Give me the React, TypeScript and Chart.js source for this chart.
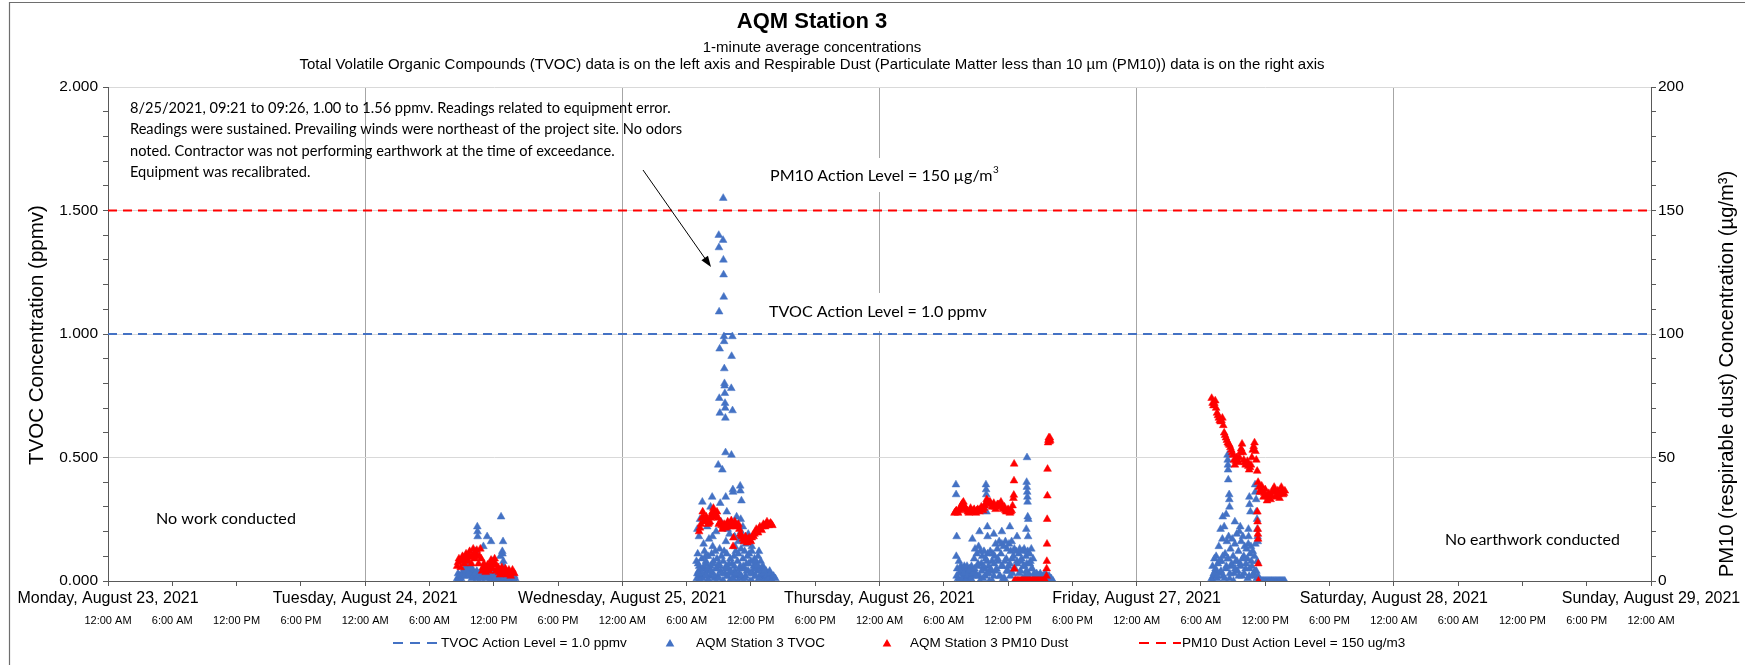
import React, { useEffect, useRef } from "react";
import { Chart, registerables } from "chart.js";

Chart.register(...registerables);

// ---------------- text ----------------
const chartTitle = "AQM Station 3";
const subtitleLines = [
  "1-minute average concentrations",
  "Total Volatile Organic Compounds (TVOC) data is on the left axis and Respirable Dust (Particulate Matter less than 10 µm (PM10)) data is on the right axis",
];
const leftAxisTitle = "TVOC Concentration (ppmv)";
const rightAxisTitle = "PM10 (respirable dust) Concentration (µg/m³)";
const dayLabels = [
  "Monday, August 23, 2021",
  "Tuesday, August 24, 2021",
  "Wednesday, August 25, 2021",
  "Thursday, August 26, 2021",
  "Friday, August 27, 2021",
  "Saturday, August 28, 2021",
  "Sunday, August 29, 2021",
];
const timeLabels = ["12:00 AM", "6:00 AM", "12:00 PM", "6:00 PM"];
const noteLines = [
  "8/25/2021, 09:21 to 09:26, 1.00 to 1.56 ppmv. Readings related to equipment error.",
  "Readings were sustained. Prevailing winds were northeast of the project site. No odors",
  "noted. Contractor was not performing earthwork at the time of exceedance.",
  "Equipment was recalibrated.",
];
const pm10LevelText = "PM10 Action Level = 150 µg/m";
const tvocLevelText = "TVOC Action Level = 1.0 ppmv";
const noWorkText = "No work conducted";
const noEarthworkText = "No earthwork conducted";
const legendLabels = [
  "TVOC Action Level = 1.0 ppmv",
  "AQM Station 3 TVOC",
  "AQM Station 3 PM10 Dust",
  "PM10 Dust Action Level = 150 ug/m3",
];

// ---------------- axes ----------------
const xHoursMax = 144; // Mon 23 Aug 00:00 -> Sun 29 Aug 00:00
const tvocMax = 2;
const pm10Max = 200;
const tvocActionLevel = 1.0;
const pm10ActionLevel = 150;

// ---------------- data: TVOC (ppmv) ----------------
// readings every 5 minutes
const tvocTueStart = ["2021-08-24", "08:35"];
const tvocTue = [
  0.01, 0.03, 0.01, 0.02, 0.0, 0.02, 0.03,
  0.04, 0.05, 0.03, 0.05, 0.04, 0.06, 0.04, 0.05, 0.03, 0.04, 0.05, 0.03,
  0.02, 0.03, 0.02, 0.04, 0.03, 0.02, 0.03, 0.02, 0.04, 0.02, 0.03, 0.02,
  0.03, 0.02, 0.03, 0.02, 0.03, 0.02, 0.03, 0.02, 0.02, 0.01, 0.03, 0.02,
  0.01, 0.02, 0.03, 0.01, 0.02, 0.02, 0.01, 0.02, 0.02, 0.01, 0.02, 0.01,
  0.02, 0.01, 0.02, 0.01, 0.0, 0.02, 0.01, 0.01, 0.0, 0.02, 0.01,
];
// readings every 10 minutes, between the above
const tvocTueLowStart = ["2021-08-24", "08:37"];
const tvocTueLow = [
  0.0, 0.02, 0.01, 0.03, 0.02, 0.04, 0.03, 0.02, 0.01, 0.02, 0.03, 0.01, 0.02, 0.01,
  0.03, 0.02, 0.01, 0.02, 0.0, 0.01, 0.02, 0.01, 0.0, 0.01, 0.02, 0.0, 0.01, 0.0,
  0.01, 0.02, 0.0, 0.01, 0.0,
];
const tvocTuePeaks: [string, number][] = [
  ["10:17", 0.12], ["10:28", 0.22], ["10:29", 0.2], ["10:30", 0.18], ["11:02", 0.14],
  ["11:23", 0.18], ["11:45", 0.16], ["11:51", 0.08], ["12:37", 0.1], ["12:41", 0.26],
  ["12:48", 0.12], ["12:49", 0.11], ["12:52", 0.16], ["12:54", 0.08], ["12:55", 0.06],
];

const tvocWedStart = ["2021-08-25", "06:55"];
const tvocWed = [
  0.08, 0.03, 0.0, 0.06, 0.02, 0.04,
  0.09, 0.01, 0.05, 0.12, 0.03, 0.07, 0.0, 0.1, 0.04, 0.02,
  0.06, 0.11, 0.03, 0.08, 0.01, 0.12, 0.05, 0.09, 0.02, 0.07,
  0.13, 0.04, 0.1, 0.0, 0.08, 0.12, 0.03, 0.06, 0.11, 0.02,
  0.05, 0.0, 0.09, 0.03, 0.07, 0.01, 0.1, 0.04, 0.12, 0.02,
  0.08, 0.11, 0.03, 0.06, 0.13, 0.01, 0.09, 0.05, 0.12, 0.02,
  0.07, 0.1, 0.04, 0.11, 0.0, 0.08, 0.12, 0.03, 0.06, 0.09,
  0.02, 0.07, 0.04, 0.1, 0.01, 0.05, 0.08, 0.02, 0.06, 0.03,
  0.05, 0.01, 0.04, 0.02, 0.03, 0.0, 0.04, 0.01, 0.02, 0.0,
];
const tvocWedLowStart = ["2021-08-25", "06:57"];
const tvocWedLow = [
  0.01, 0.04, 0.0, 0.03, 0.06, 0.02, 0.05, 0.0, 0.04, 0.07,
  0.02, 0.05, 0.01, 0.06, 0.03, 0.0, 0.05, 0.02, 0.07, 0.04,
  0.01, 0.06, 0.03, 0.0, 0.05, 0.02, 0.06, 0.01, 0.04, 0.07,
  0.03, 0.0, 0.05, 0.02, 0.06, 0.01, 0.03, 0.0, 0.04, 0.02,
  0.01, 0.03, 0.0, 0.02, 0.01,
];
const tvocWedPeaks: [string, number][] = [
  ["07:00", 0.21], ["07:02", 0.11], ["07:04", 0.07], ["07:06", 0.03], ["07:09", 0.18],
  ["07:15", 0.25], ["07:28", 0.32], ["07:35", 0.15], ["07:46", 0.1], ["07:48", 0.08],
  ["07:55", 0.22], ["08:05", 0.17], ["08:14", 0.3], ["08:23", 0.34], ["08:25", 0.18],
  ["08:26", 0.14], ["08:33", 0.27], ["08:45", 0.2],
  ["08:57", 0.47], ["09:00", 1.4], ["09:01", 1.35], ["09:02", 1.09], ["09:03", 0.74],
  ["09:05", 0.94], ["09:06", 0.68], ["09:08", 0.315], ["09:12", 0.24],
  ["09:20", 0.45], ["09:24", 1.38], ["09:25", 1.55], ["09:26", 1.3], ["09:27", 1.24],
  ["09:28", 1.15], ["09:29", 0.99], ["09:30", 0.97], ["09:31", 0.86], ["09:32", 0.8],
  ["09:33", 0.79], ["09:34", 0.76], ["09:35", 0.72], ["09:36", 0.7], ["09:37", 0.66],
  ["09:38", 0.52], ["09:39", 0.34], ["09:40", 0.16], ["09:45", 0.28], ["09:50", 0.21],
  ["10:00", 0.19],
  ["10:10", 0.78], ["10:11", 0.51], ["10:12", 0.91], ["10:16", 0.99], ["10:17", 0.69],
  ["10:19", 0.37], ["10:20", 0.36], ["10:29", 0.18], ["10:31", 0.14], ["10:40", 0.26],
  ["10:50", 0.16],
  ["11:00", 0.385], ["11:01", 0.365], ["11:03", 0.25], ["11:04", 0.2], ["11:05", 0.18],
  ["11:07", 0.325], ["11:15", 0.22], ["11:30", 0.15], ["11:45", 0.19], ["12:05", 0.14],
  ["12:27", 0.08], ["12:45", 0.12],
];

const tvocThuStart = ["2021-08-26", "07:10"];
const tvocThu = [
  0.1, 0.05, 0.01, 0.08, 0.03, 0.06,
  0.0, 0.05, 0.02, 0.06, 0.01, 0.04, 0.06, 0.0, 0.03, 0.05,
  0.01, 0.06, 0.02, 0.04, 0.09, 0.13, 0.03, 0.11, 0.06, 0.14,
  0.02, 0.12, 0.07, 0.1, 0.01, 0.12, 0.05, 0.09, 0.03, 0.11,
  0.06, 0.0, 0.12, 0.04, 0.08, 0.11, 0.02, 0.1, 0.15, 0.05,
  0.13, 0.08, 0.16, 0.02, 0.11, 0.15, 0.06, 0.14, 0.01, 0.16,
  0.09, 0.13, 0.04, 0.15, 0.07, 0.12, 0.16, 0.03, 0.1, 0.13,
  0.05, 0.12, 0.08, 0.0, 0.11, 0.13, 0.04, 0.09, 0.12, 0.06,
  0.13, 0.02, 0.1, 0.07, 0.12, 0.03, 0.11, 0.08, 0.13, 0.05,
  0.09, 0.03, 0.02, 0.0, 0.03, 0.01, 0.02, 0.0, 0.03, 0.01,
  0.02, 0.0, 0.01, 0.03, 0.0, 0.02, 0.01, 0.0, 0.02, 0.01,
  0.0,
];
const tvocThuLowStart = ["2021-08-26", "07:12"];
const tvocThuLow = [
  0.02, 0.0, 0.04, 0.01, 0.03, 0.0, 0.02, 0.04, 0.01, 0.03,
  0.05, 0.02, 0.07, 0.0, 0.04, 0.06, 0.02, 0.08, 0.03, 0.05,
  0.0, 0.07, 0.04, 0.09, 0.02, 0.06, 0.01, 0.08, 0.04, 0.06,
  0.02, 0.09, 0.05, 0.0, 0.07, 0.03, 0.08, 0.01, 0.06, 0.04,
  0.02, 0.07, 0.05, 0.01, 0.01, 0.0, 0.02, 0.01, 0.0, 0.01,
  0.0, 0.02, 0.0, 0.01, 0.0,
];
const tvocThuPeaks: [string, number][] = [
  ["07:08", 0.39], ["07:09", 0.35], ["07:12", 0.18], ["08:40", 0.17], ["09:20", 0.2],
  ["09:56", 0.39], ["09:57", 0.37], ["09:58", 0.35], ["09:59", 0.28], ["10:04", 0.22],
  ["10:05", 0.18], ["10:40", 0.19], ["11:25", 0.2], ["12:10", 0.22], ["12:50", 0.18],
  ["13:42", 0.21], ["13:44", 0.4], ["13:45", 0.38], ["13:46", 0.5], ["13:47", 0.36],
  ["13:48", 0.34], ["13:49", 0.32], ["13:50", 0.26], ["13:52", 0.18], ["13:53", 0.25],
];

const tvocFriStart = ["2021-08-27", "07:00"];
const tvocFri = [
  0.01, 0.06, 0.02, 0.09, 0.04, 0.1, 0.01, 0.07,
  0.14, 0.03, 0.21, 0.08, 0.17, 0.02, 0.22, 0.11, 0.05, 0.16,
  0.09, 0.18, 0.01, 0.13, 0.06, 0.17, 0.1, 0.03, 0.15, 0.08,
  0.19, 0.04, 0.12, 0.2, 0.07, 0.16, 0.02, 0.18, 0.1, 0.14,
  0.05, 0.13, 0.09, 0.15, 0.02, 0.11, 0.14, 0.06, 0.12, 0.03,
  0.1, 0.15, 0.04, 0.08, 0.02,
  0, 0, 0, 0, 0, 0, 0, 0, 0, 0, 0, 0, 0, 0, 0,
  0, 0, 0, 0, 0, 0, 0, 0, 0, 0, 0, 0, 0, 0, 0,
];
const tvocFriLowStart = ["2021-08-27", "07:02"];
const tvocFriLow = [
  0.0, 0.03, 0.05, 0.02, 0.08, 0.04, 0.1, 0.01, 0.06, 0.09,
  0.03, 0.07, 0.0, 0.05, 0.08, 0.02, 0.06, 0.09, 0.03, 0.07,
  0.01, 0.05, 0.08, 0.02, 0.04, 0.01, 0.0,
];
const tvocFriPeaks: [string, number][] = [
  ["08:02", 0.26], ["08:21", 0.27], ["08:29", 0.51], ["08:30", 0.49], ["08:31", 0.47],
  ["08:32", 0.45], ["08:33", 0.41], ["08:38", 0.35], ["08:39", 0.33], ["08:40", 0.3],
  ["09:10", 0.24], ["09:40", 0.22], ["10:26", 0.21], ["10:27", 0.18], ["10:31", 0.34],
  ["10:32", 0.31], ["10:37", 0.28], ["11:03", 0.39], ["11:04", 0.36], ["11:09", 0.33],
  ["11:10", 0.28], ["11:14", 0.25], ["11:15", 0.21], ["11:17", 0.18], ["11:18", 0.16],
];

// ---------------- data: PM10 (µg/m3) ----------------
// readings every 10 minutes (A) and the 10-minute readings in between (B)
const pm10TueStart = ["2021-08-24", "08:35"];
const pm10Tue = [
  6, 9, 5.5, 10, 7, 11, 8, 12, 7, 13, 9, 12.5, 7, 13, 4, 7, 3.5, 6.5, 4, 8.5,
  5, 9, 4, 5.5, 2.5, 5.5, 3, 5, 2.5, 4.5, 2, 4.5, 3,
];
const pm10TueBStart = ["2021-08-24", "08:40"];
const pm10TueB = [
  7.5, 8, 8.5, 8.5, 9.5, 9, 10.5, 9.5, 10, 11, 10.5, 10, 10, 9, 5.5, 5, 5, 5.5, 6.5,
  7, 6.5, 7, 4.5, 3.5, 4, 4, 4, 3.5, 3.5, 3, 3.5, 3.5,
];

const pm10WedStart = ["2021-08-25", "07:10"];
const pm10Wed = [
  20, 23, 28, 24, 26, 23, 24, 27, 29.5, 26, 28, 23, 24, 21, 23, 21.5, 24, 22, 24.5, 14,
  24, 22, 23, 19, 18, 16, 18, 15.5, 17.5, 16, 18.5, 19, 21, 19.5, 22, 20.5, 23, 22, 24,
  22.5, 23.5, 22.5,
];
const pm10WedBStart = ["2021-08-25", "07:15"];
const pm10WedB = [
  21.5, 25.5, 26, 25, 24.5, 23.5, 25.5, 28, 27.5, 27, 25.5, 23.5, 22.5, 22, 22.5, 22.5,
  23, 23.5, 22.5, 22, 23, 22.5, 21, 18.5, 17, 17, 16.5, 16.5, 16.5, 17.5, 18, 20, 20,
  21, 21, 22, 22.5, 23, 23, 23, 23,
];
const pm10WedPeaks: [string, number][] = [["10:22", 17.5]];

const pm10ThuStart = ["2021-08-26", "07:00"];
const pm10Thu = [
  27.5, 28.5, 27.5, 29, 31, 32, 29.5, 28.5, 27.5, 29.5, 28, 29, 27.5, 29, 28, 30, 28.5,
  30.5, 33, 31.5, 32, 30, 31.5, 29, 31, 30.5, 32, 29.5, 30, 28, 29, 27.5, 28.5, 33.5,
  0, 0, 0, 0, 0, 0, 0, 0, 0, 0, 0, 0, 0, 0, 0, 0, 0, 0,
];
const pm10ThuBStart = ["2021-08-26", "07:05"];
const pm10ThuB = [
  28, 28, 28.5, 30, 31.5, 30.5, 29, 28, 28.5, 28.5, 28.5, 28, 28.5, 28.5, 29, 29.5,
  29.5, 31.5, 32.5, 32, 31, 30.5, 30, 30, 31, 31, 30.5, 29, 28.5, 28.5, 28, 28, 30.5,
  0, 0, 0, 0, 0, 0, 0, 0, 0, 0, 0, 0, 0, 0, 0, 0, 0, 0,
];
const pm10ThuPeaks: [string, number][] = [
  ["12:32", 34.8], ["12:33", 40.6], ["12:34", 47.4], ["12:35", 4.9],
  ["15:35", 2], ["15:36", 5], ["15:37", 8], ["15:38", 15], ["15:39", 25], ["15:40", 34.5],
  ["15:41", 45.3], ["15:44", 56], ["15:46", 57], ["15:48", 58], ["15:50", 57.5],
  ["15:52", 56.5], ["15:54", 58], ["15:56", 57],
];

const pm10FriStart = ["2021-08-27", "07:00"];
const pm10Fri = [
  74, 71, 73, 68, 66, 64.5, 66, 60, 58, 56, 55, 53, 51, 47, 50, 48, 52, 55.5, 49, 47,
  48.5, 45, 47, 53, 56, 49, 40, 36, 38.5, 34, 37, 32.5, 35.5, 33, 36, 38, 34, 36.5,
  33.5, 38, 35, 36.5,
];
const pm10FriBStart = ["2021-08-27", "07:05"];
const pm10FriB = [
  72, 72, 70, 67, 65, 65, 63, 59, 57, 55.5, 54, 52, 49, 48.5, 49, 50, 53.5, 52, 48,
  47.5, 46.5, 46, 50, 54.5, 52.5, 44.5, 38, 37, 36, 35.5, 34.5, 34, 34.5, 34.5, 37, 36,
  35, 35, 35.5, 36.5, 35.5,
];
const pm10FriPeaks: [string, number][] = [
  ["11:16", 28], ["11:17", 24], ["11:18", 21], ["11:19", 19], ["11:20", 17],
  ["11:21", 7], ["11:22", 0],
];

// ---------------- helpers ----------------
const ARIAL = "'Liberation Sans', Arial, sans-serif";
const CALIBRI = "Lato, 'Open Sans', sans-serif";
const BLUE = "#4472C4";
const RED = "#FF0000";

function toHours(date: string, time: string): number {
  const day = Number(date.slice(8, 10)) - 23;
  const [h, m] = time.split(":").map(Number);
  return day * 24 + h + m / 60;
}
function sampled(start: string[], stepMin: number, values: number[]) {
  const t0 = toHours(start[0], start[1]);
  return values.map((v, i) => ({ x: t0 + (i * stepMin) / 60, y: v }));
}
function listed(date: string, pairs: [string, number][]) {
  return pairs.map(([t, v]) => ({ x: toHours(date, t), y: v }));
}
const isHalfStep = (v: number) => Math.abs(v * 2 - Math.round(v * 2)) < 1e-9;

function fitSize(ctx: CanvasRenderingContext2D, text: string, family: string, target: number) {
  ctx.font = `100px ${family}`;
  return (100 * target) / ctx.measureText(text).width;
}

function triangle(ctx: CanvasRenderingContext2D, cx: number, cy: number, r: number) {
  ctx.beginPath();
  ctx.moveTo(cx, cy - r);
  ctx.lineTo(cx + 0.866 * r, cy + 0.5 * r);
  ctx.lineTo(cx - 0.866 * r, cy + 0.5 * r);
  ctx.closePath();
  ctx.fill();
}

const overlay = {
  id: "overlay",
  afterDraw(chart: any) {
    const ctx: CanvasRenderingContext2D = chart.ctx;
    ctx.save();
    // chart frame
    ctx.strokeStyle = "#6e6e6e";
    ctx.lineWidth = 1.2;
    ctx.beginPath();
    ctx.moveTo(9.5, 665);
    ctx.lineTo(9.5, 2.5);
    ctx.lineTo(1745, 2.5);
    ctx.stroke();

    ctx.fillStyle = "#000";
    ctx.textBaseline = "middle";
    ctx.textAlign = "center";
    ctx.font = `bold 22px ${ARIAL}`;
    ctx.fillText(chartTitle, 812, 22);
    ctx.font = `15px ${ARIAL}`;
    ctx.fillText(subtitleLines[0], 812, 48);
    ctx.fillText(subtitleLines[1], 812, 64.5);

    // axis titles
    ctx.font = `20.5px ${ARIAL}`;
    ctx.save();
    ctx.translate(37, 335);
    ctx.rotate(-Math.PI / 2);
    ctx.fillText(leftAxisTitle, 0, 0);
    ctx.restore();
    ctx.font = `20.2px ${ARIAL}`;
    ctx.save();
    ctx.translate(1727, 374);
    ctx.rotate(-Math.PI / 2);
    ctx.fillText(rightAxisTitle, 0, 0);
    ctx.restore();

    // label boxes
    ctx.fillStyle = "#fff";
    ctx.fillRect(762, 158, 238, 34);
    ctx.fillRect(762, 293, 238, 38);

    ctx.fillStyle = "#000";
    ctx.textAlign = "left";
    const noteSize = fitSize(ctx, noteLines[0], CALIBRI, 541);
    ctx.font = `${noteSize}px ${CALIBRI}`;
    const noteY = [108, 129.5, 151, 172.5];
    noteLines.forEach((l, i) => ctx.fillText(l, 130, noteY[i]));

    const lvlSize = fitSize(ctx, tvocLevelText, CALIBRI, 218);
    ctx.font = `${lvlSize}px ${CALIBRI}`;
    ctx.fillText(tvocLevelText, 769, 312);
    ctx.fillText(pm10LevelText, 770, 176);
    const w = ctx.measureText(pm10LevelText).width;
    ctx.font = `${lvlSize * 0.62}px ${CALIBRI}`;
    ctx.fillText("3", 770 + w + 0.5, 170);

    const nwSize = fitSize(ctx, noWorkText, CALIBRI, 140);
    ctx.font = `${nwSize}px ${CALIBRI}`;
    ctx.fillText(noWorkText, 156, 519);
    const neSize = fitSize(ctx, noEarthworkText, CALIBRI, 175);
    ctx.font = `${neSize}px ${CALIBRI}`;
    ctx.fillText(noEarthworkText, 1445, 540);

    // arrow
    const ax0 = 643, ay0 = 170, ax1 = 711, ay1 = 267;
    const ang = Math.atan2(ay1 - ay0, ax1 - ax0);
    ctx.strokeStyle = "#000";
    ctx.lineWidth = 1;
    ctx.beginPath();
    ctx.moveTo(ax0, ay0);
    ctx.lineTo(ax1 - 8 * Math.cos(ang), ay1 - 8 * Math.sin(ang));
    ctx.stroke();
    ctx.beginPath();
    ctx.moveTo(ax1, ay1);
    ctx.lineTo(ax1 - 11 * Math.cos(ang) + 4 * Math.sin(ang), ay1 - 11 * Math.sin(ang) - 4 * Math.cos(ang));
    ctx.lineTo(ax1 - 11 * Math.cos(ang) - 4 * Math.sin(ang), ay1 - 11 * Math.sin(ang) + 4 * Math.cos(ang));
    ctx.closePath();
    ctx.fillStyle = "#000";
    ctx.fill();

    // legend
    const ly = 643;
    ctx.font = `13.5px ${ARIAL}`;
    ctx.fillStyle = "#000";
    ctx.lineWidth = 2;
    ctx.setLineDash([10, 7]);
    ctx.strokeStyle = BLUE;
    ctx.beginPath();
    ctx.moveTo(393, ly);
    ctx.lineTo(440, ly);
    ctx.stroke();
    ctx.strokeStyle = RED;
    ctx.beginPath();
    ctx.moveTo(1139, ly);
    ctx.lineTo(1181, ly);
    ctx.stroke();
    ctx.setLineDash([]);
    ctx.fillStyle = BLUE;
    triangle(ctx, 670, ly + 1, 5);
    ctx.fillStyle = RED;
    triangle(ctx, 887, ly + 1, 5);
    ctx.fillStyle = "#000";
    ctx.fillText(legendLabels[0], 441, ly);
    ctx.fillText(legendLabels[1], 696, ly);
    ctx.fillText(legendLabels[2], 910, ly);
    ctx.fillText(legendLabels[3], 1182, ly);
    ctx.restore();
  },
};

export default function App() {
  const ref = useRef<HTMLCanvasElement | null>(null);
  useEffect(() => {
    document.body.style.margin = "0";
    const canvas = ref.current;
    if (!canvas) return;

    const tvocData = [
      ...sampled(tvocTueStart, 5, tvocTue),
      ...sampled(tvocTueLowStart, 10, tvocTueLow),
      ...listed("2021-08-24", tvocTuePeaks),
      ...sampled(tvocWedStart, 5, tvocWed),
      ...sampled(tvocWedLowStart, 10, tvocWedLow),
      ...listed("2021-08-25", tvocWedPeaks),
      ...sampled(tvocThuStart, 5, tvocThu),
      ...sampled(tvocThuLowStart, 10, tvocThuLow),
      ...listed("2021-08-26", tvocThuPeaks),
      ...sampled(tvocFriStart, 5, tvocFri),
      ...sampled(tvocFriLowStart, 10, tvocFriLow),
      ...listed("2021-08-27", tvocFriPeaks),
    ];
    const pm10Data = [
      ...sampled(pm10TueStart, 10, pm10Tue),
      ...sampled(pm10TueBStart, 10, pm10TueB),
      ...sampled(pm10WedStart, 10, pm10Wed),
      ...sampled(pm10WedBStart, 10, pm10WedB),
      ...listed("2021-08-25", pm10WedPeaks),
      ...sampled(pm10ThuStart, 10, pm10Thu),
      ...sampled(pm10ThuBStart, 10, pm10ThuB),
      ...listed("2021-08-26", pm10ThuPeaks),
      ...sampled(pm10FriStart, 10, pm10Fri),
      ...sampled(pm10FriBStart, 10, pm10FriB),
      ...listed("2021-08-27", pm10FriPeaks),
    ];

    Chart.defaults.font.family = ARIAL;
    const transparent = "rgba(0,0,0,0)";
    const chart = new Chart(canvas, {
      type: "scatter",
      data: {
        datasets: [
          {
            label: legendLabels[0],
            data: [{ x: 0, y: tvocActionLevel }, { x: xHoursMax, y: tvocActionLevel }],
            showLine: true,
            borderColor: BLUE,
            borderWidth: 2,
            borderDash: [9, 6],
            pointRadius: 0,
            yAxisID: "y",
            order: 3,
          },
          {
            label: legendLabels[1],
            data: tvocData,
            pointStyle: "triangle",
            pointRadius: 4.5,
            backgroundColor: BLUE,
            borderColor: BLUE,
            borderWidth: 0.5,
            yAxisID: "y",
            order: 2,
          },
          {
            label: legendLabels[2],
            data: pm10Data,
            pointStyle: "triangle",
            pointRadius: 4.5,
            backgroundColor: RED,
            borderColor: RED,
            borderWidth: 0.5,
            yAxisID: "y1",
            order: 1,
          },
          {
            label: legendLabels[3],
            data: [{ x: 0, y: pm10ActionLevel }, { x: xHoursMax, y: pm10ActionLevel }],
            showLine: true,
            borderColor: RED,
            borderWidth: 2,
            borderDash: [9, 6],
            pointRadius: 0,
            yAxisID: "y1",
            order: 3,
          },
        ] as any,
      },
      options: {
        responsive: false,
        animation: false,
        devicePixelRatio: 1,
        events: [],
        layout: { padding: { top: 87, left: 0, right: 0, bottom: 0 } },
        plugins: { legend: { display: false }, tooltip: { enabled: false } },
        scales: {
          x: {
            type: "linear",
            position: "bottom",
            min: 0,
            max: xHoursMax,
            weight: 0,
            ticks: {
              stepSize: 6,
              maxTicksLimit: 1000,
              autoSkip: false,
              maxRotation: 0,
              minRotation: 0,
              padding: 3,
              color: "#000",
              font: { family: ARIAL, size: 16 },
              callback: (v: any) => (Number(v) % 24 === 0 ? dayLabels[Number(v) / 24] : ""),
            },
            grid: {
              color: (c: any) => (c.tick && c.tick.value % 24 === 0 ? "#A6A6A6" : transparent),
              tickColor: "#595959",
              tickLength: 5,
              lineWidth: 1,
            },
            border: { color: "#595959", width: 1 },
            afterFit: (s: any) => {
              s.height = 30;
            },
          },
          xTime: {
            type: "linear",
            position: "bottom",
            min: 0,
            max: xHoursMax,
            weight: 1,
            ticks: {
              stepSize: 6,
              maxTicksLimit: 1000,
              autoSkip: false,
              maxRotation: 0,
              minRotation: 0,
              padding: 3,
              color: "#000",
              font: { family: ARIAL, size: 11 },
              callback: (v: any) => timeLabels[Math.round(Number(v) / 6) % 4],
            },
            grid: { display: false, drawTicks: false },
            border: { display: false },
            afterFit: (s: any) => {
              s.height = 54;
            },
          },
          y: {
            position: "left",
            min: 0,
            max: tvocMax,
            ticks: {
              stepSize: 0.1,
              maxTicksLimit: 1000,
              autoSkip: false,
              padding: 5,
              color: "#000",
              font: { family: ARIAL, size: 15.5 },
              callback: (v: any) => (isHalfStep(Number(v)) ? Number(v).toFixed(3) : ""),
            },
            grid: {
              color: (c: any) => (c.tick && isHalfStep(c.tick.value) ? "#D9D9D9" : transparent),
              tickColor: "#595959",
              tickLength: 5,
            },
            border: { color: "#595959", width: 1 },
            afterFit: (s: any) => {
              s.width = 108;
            },
          },
          y1: {
            position: "right",
            min: 0,
            max: pm10Max,
            ticks: {
              stepSize: 10,
              maxTicksLimit: 1000,
              autoSkip: false,
              padding: 2,
              color: "#000",
              font: { family: ARIAL, size: 15.5 },
              callback: (v: any) => (Number(v) % 50 === 0 ? String(v) : ""),
            },
            grid: { drawOnChartArea: false, tickColor: "#595959", tickLength: 5 },
            border: { color: "#595959", width: 1 },
            afterFit: (s: any) => {
              s.width = 94;
            },
          },
        } as any,
      },
      plugins: [overlay as any],
    });
    return () => chart.destroy();
  }, []);

  return (
    <canvas
      ref={ref}
      width={1745}
      height={665}
      style={{ display: "block", width: "1745px", height: "665px" }}
    />
  );
}
